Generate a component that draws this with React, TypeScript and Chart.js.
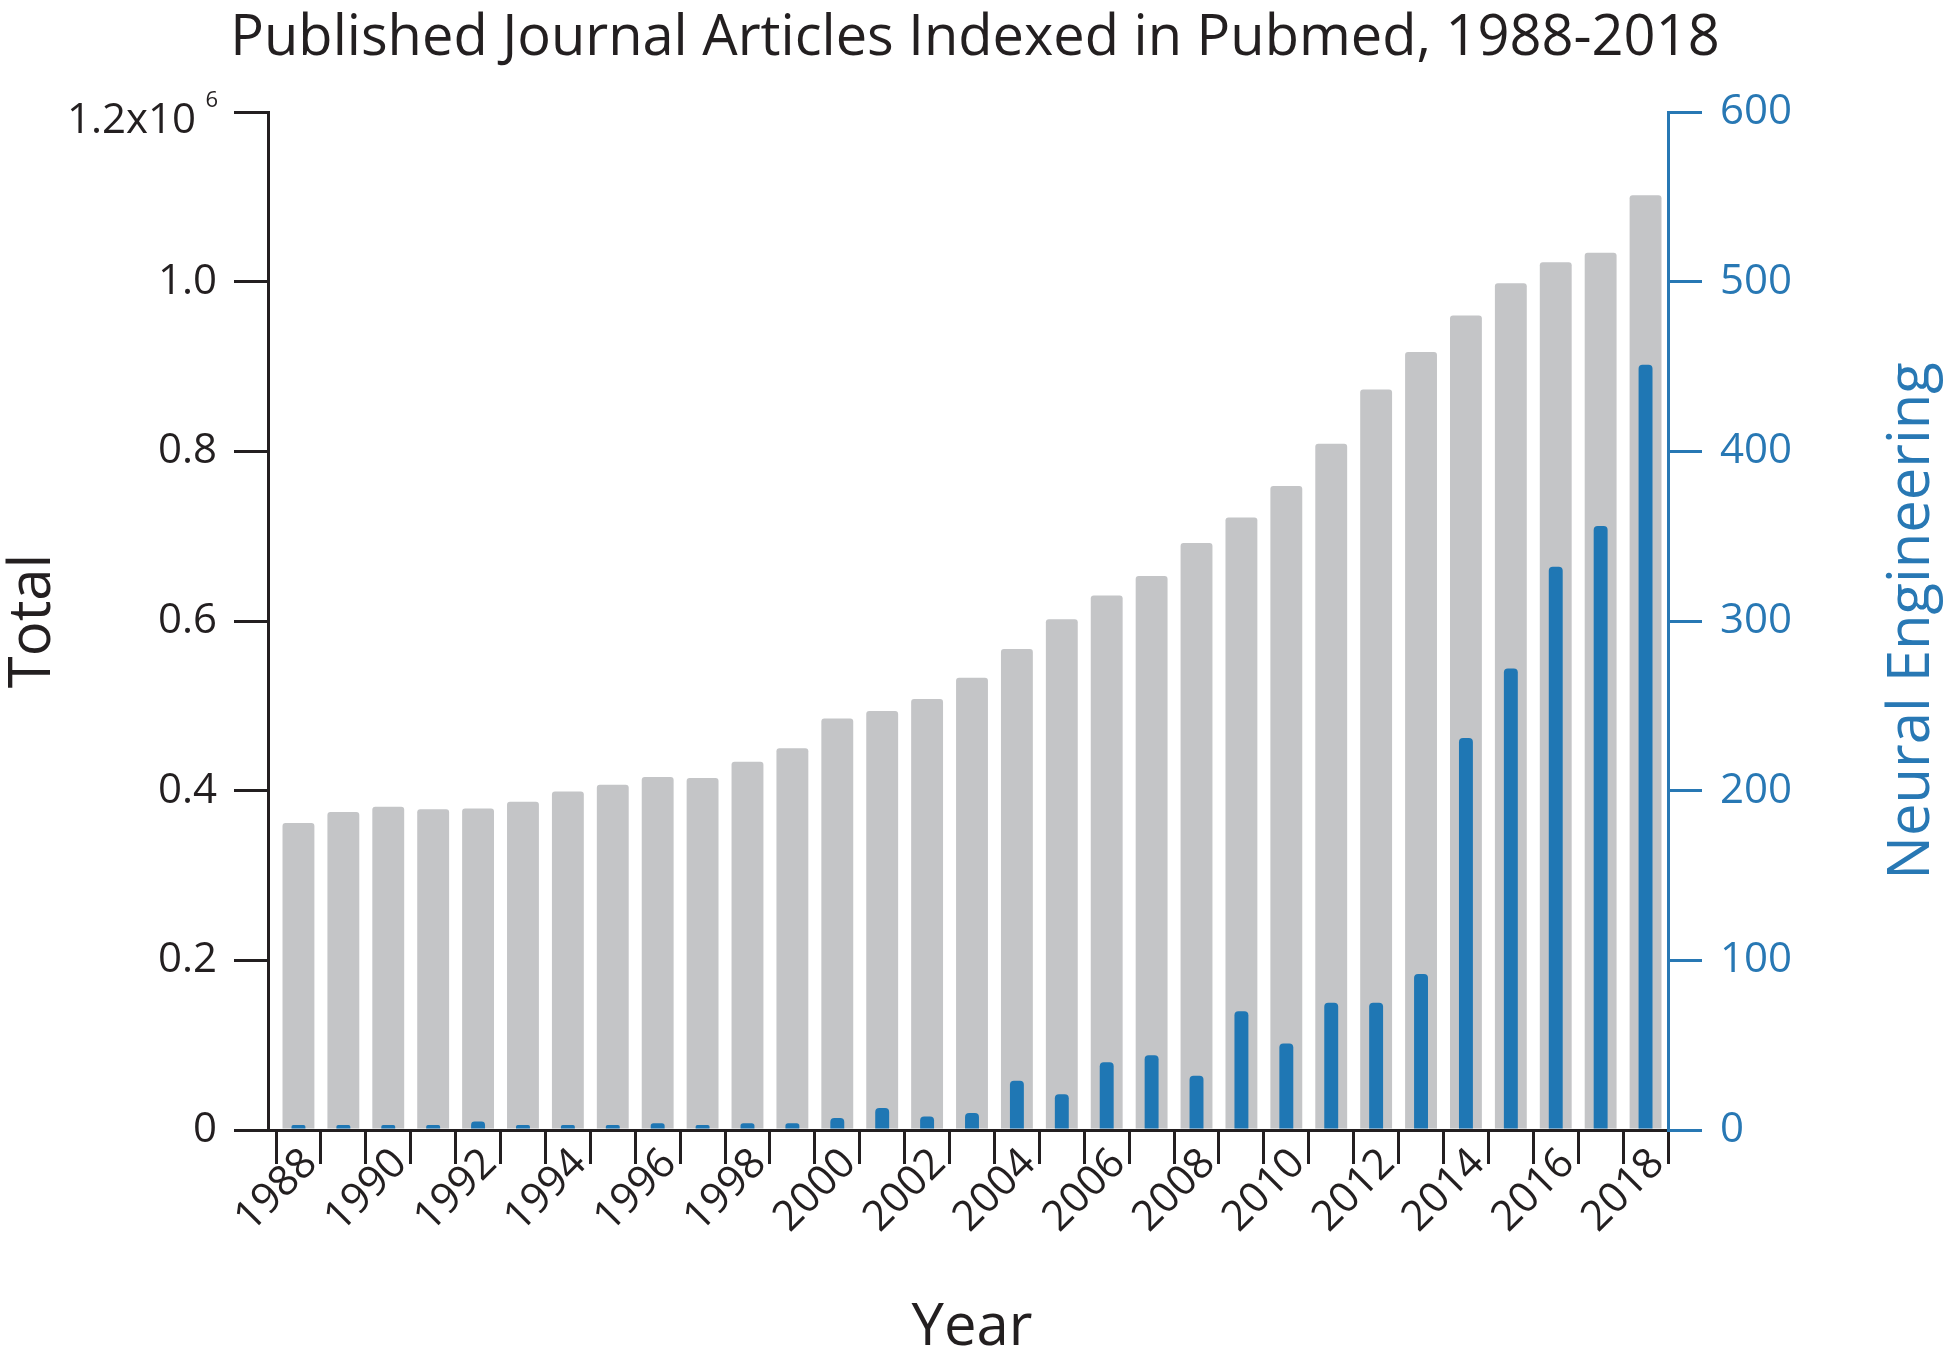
import React, { useEffect, useRef } from 'react';
import { Chart, registerables } from 'chart.js';

Chart.register(...registerables);

// ---------- data ----------
const years = [
  '1988', '1989', '1990', '1991', '1992', '1993', '1994', '1995', '1996', '1997', '1998',
  '1999', '2000', '2001', '2002', '2003', '2004', '2005', '2006', '2007', '2008',
  '2009', '2010', '2011', '2012', '2013', '2014', '2015', '2016', '2017', '2018',
];

const totalArticles = [
  362000, 375000, 381000, 378000, 379000, 387000, 399000, 407000, 416000, 415000, 434000,
  450000, 485000, 494000, 508000, 533000, 567000, 602000, 630000, 653000, 692000,
  722000, 759000, 809000, 873000, 917000, 960000, 998000, 1023000, 1034000, 1102000,
];

const neuralEngineering = [
  3, 3, 3, 3, 5, 3, 3, 3, 4, 3, 4,
  4, 7, 13, 8, 10, 29, 21, 40, 44, 32,
  70, 51, 75, 75, 92, 231, 272, 332, 356, 451,
];

const leftTickValues = [0, 200000, 400000, 600000, 800000, 1000000, 1200000];
const leftTickLabels = ['0', '0.2', '0.4', '0.6', '0.8', '1.0', '1.2x10'];
const leftTopSuperscript = '6';
const rightTickStep = 100;
const rightMax = 600;

const TITLE = 'Published Journal Articles Indexed in Pubmed, 1988-2018';
const LEFT_TITLE = 'Total';
const RIGHT_TITLE = 'Neural Engineering';
const X_TITLE = 'Year';

// ---------- styles ----------
const DARK = '#231f20';
const GRAY = '#c4c5c7';
const BLUE = '#1f77b4';
const AXIS_BLUE = '#2878b4';
const FONT = "'Open Sans', sans-serif";
const TICK_FONT = 42;
const AXIS_TITLE_FONT = 58;
const TICK_LEN = 34;
const LEFT_PAD = 17;
const X_START_GAP = 8;
const RIGHT_TITLE_X = 1912;

const superscriptPlugin = {
  id: 'superscript',
  afterDraw(chart: any) {
    const s = chart.scales.y;
    const yPix = s.getPixelForValue(leftTickValues[leftTickValues.length - 1]);
    const ctx = chart.ctx;
    ctx.save();
    ctx.font = `22px ${FONT}`;
    ctx.fillStyle = DARK;
    ctx.textAlign = 'right';
    ctx.textBaseline = 'middle';
    ctx.fillText(leftTopSuperscript, s.right - TICK_LEN - LEFT_PAD + 1, yPix - 11);
    ctx.restore();
  },
};

// right axis title reads bottom-to-top like the left one
const rightTitlePlugin = {
  id: 'rightTitle',
  afterDraw(chart: any) {
    const area = chart.chartArea;
    const ctx = chart.ctx;
    ctx.save();
    ctx.translate(RIGHT_TITLE_X, (area.top + area.bottom) / 2);
    ctx.rotate(-Math.PI / 2);
    ctx.font = `${AXIS_TITLE_FONT}px ${FONT}`;
    ctx.fillStyle = AXIS_BLUE;
    ctx.textAlign = 'center';
    ctx.textBaseline = 'middle';
    ctx.fillText(RIGHT_TITLE, 0, 0);
    ctx.restore();
  },
};

const shiftXPlugin = {
  id: 'shiftX',
  afterLayout(chart: any) {
    const x = chart.scales.x;
    x.left = chart.chartArea.left + X_START_GAP;
    x.width = x.right - x.left;
    x.configure();
  },
};

export default function App() {
  const ref = useRef<HTMLCanvasElement>(null);

  useEffect(() => {
    document.body.style.margin = '0';
    Chart.defaults.font.family = FONT;
    const canvas = ref.current!;
    const chart = new Chart(canvas, {
      type: 'bar',
      data: {
        labels: years,
        datasets: [
          {
            label: RIGHT_TITLE,
            data: neuralEngineering,
            yAxisID: 'y2',
            backgroundColor: BLUE,
            grouped: false,
            barPercentage: 0.31,
            categoryPercentage: 1,
            borderRadius: { topLeft: 4, topRight: 4, bottomLeft: 0, bottomRight: 0 },
            borderSkipped: 'bottom',
          },
          {
            label: LEFT_TITLE,
            data: totalArticles,
            yAxisID: 'y',
            backgroundColor: GRAY,
            grouped: false,
            barPercentage: 0.71,
            categoryPercentage: 1,
            borderRadius: { topLeft: 3, topRight: 3, bottomLeft: 0, bottomRight: 0 },
            borderSkipped: 'bottom',
          },
        ],
      },
      options: {
        responsive: false,
        animation: false,
        devicePixelRatio: 1,
        layout: { padding: 0 },
        plugins: {
          legend: { display: false },
          tooltip: { enabled: false },
          title: {
            display: true,
            text: TITLE,
            fullSize: true,
            color: DARK,
            font: { size: 56, weight: 'normal', lineHeight: 1 },
            padding: { top: 11, bottom: 45 },
          },
        },
        scales: {
          x: {
            type: 'category',
            offset: true,
            z: 1,
            grid: {
              offset: true,
              drawOnChartArea: false,
              color: DARK,
              lineWidth: 3,
              tickLength: TICK_LEN,
            },
            border: { display: true, color: DARK, width: 3 },
            ticks: {
              autoSkip: false,
              maxRotation: 45,
              minRotation: 45,
              padding: -25,
              labelOffset: 12,
              color: DARK,
              font: { size: TICK_FONT },
              callback: (_v: any, i: number) => (i % 2 === 0 ? years[i] : ''),
            },
            title: {
              display: true,
              text: X_TITLE,
              color: DARK,
              font: { size: AXIS_TITLE_FONT, lineHeight: 1 },
              padding: { top: 0, bottom: -2 },
            },
            afterFit: (s: any) => {
              s.height = 225;
            },
          },
          y: {
            position: 'left',
            min: 0,
            max: leftTickValues[leftTickValues.length - 1],
            ticks: {
              stepSize: leftTickValues[1] - leftTickValues[0],
              padding: LEFT_PAD,
              color: DARK,
              font: (c: any) =>
                c.tick && c.tick.value === leftTickValues[leftTickValues.length - 1]
                  ? { size: TICK_FONT, lineHeight: '19px' }
                  : { size: TICK_FONT },
              callback: (v: any) => {
                const idx = leftTickValues.indexOf(Number(v));
                if (idx < 0) return '';
                if (idx === leftTickValues.length - 1) return ['', leftTickLabels[idx] + '\u2002'];
                return leftTickLabels[idx];
              },
            },
            grid: {
              drawOnChartArea: true,
              color: (c: any) => (c.tick && c.tick.value === 0 ? DARK : 'rgba(0,0,0,0)'),
              tickColor: DARK,
              lineWidth: 3,
              tickWidth: 3,
              tickLength: TICK_LEN,
            },
            border: { color: DARK, width: 3 },
            title: {
              display: true,
              text: LEFT_TITLE,
              color: DARK,
              font: { size: AXIS_TITLE_FONT, lineHeight: 1 },
              padding: { top: 4.5, bottom: 0 },
            },
            afterFit: (s: any) => {
              s.width = 268;
            },
          },
          y2: {
            position: 'right',
            min: 0,
            max: rightMax,
            ticks: {
              stepSize: rightTickStep,
              padding: 18,
              color: AXIS_BLUE,
              font: { size: TICK_FONT },
            },
            grid: {
              drawOnChartArea: false,
              color: AXIS_BLUE,
              lineWidth: 3,
              tickLength: TICK_LEN,
            },
            border: { color: AXIS_BLUE, width: 3 },
            title: { display: false },
            afterFit: (s: any) => {
              s.width = 282;
            },
          },
        },
      },
      plugins: [shiftXPlugin, superscriptPlugin, rightTitlePlugin],
    } as any);
    return () => chart.destroy();
  }, []);

  return (
    <div style={{ width: 1950, height: 1355 }}>
      <canvas ref={ref} width={1950} height={1355} style={{ display: 'block' }} />
    </div>
  );
}
